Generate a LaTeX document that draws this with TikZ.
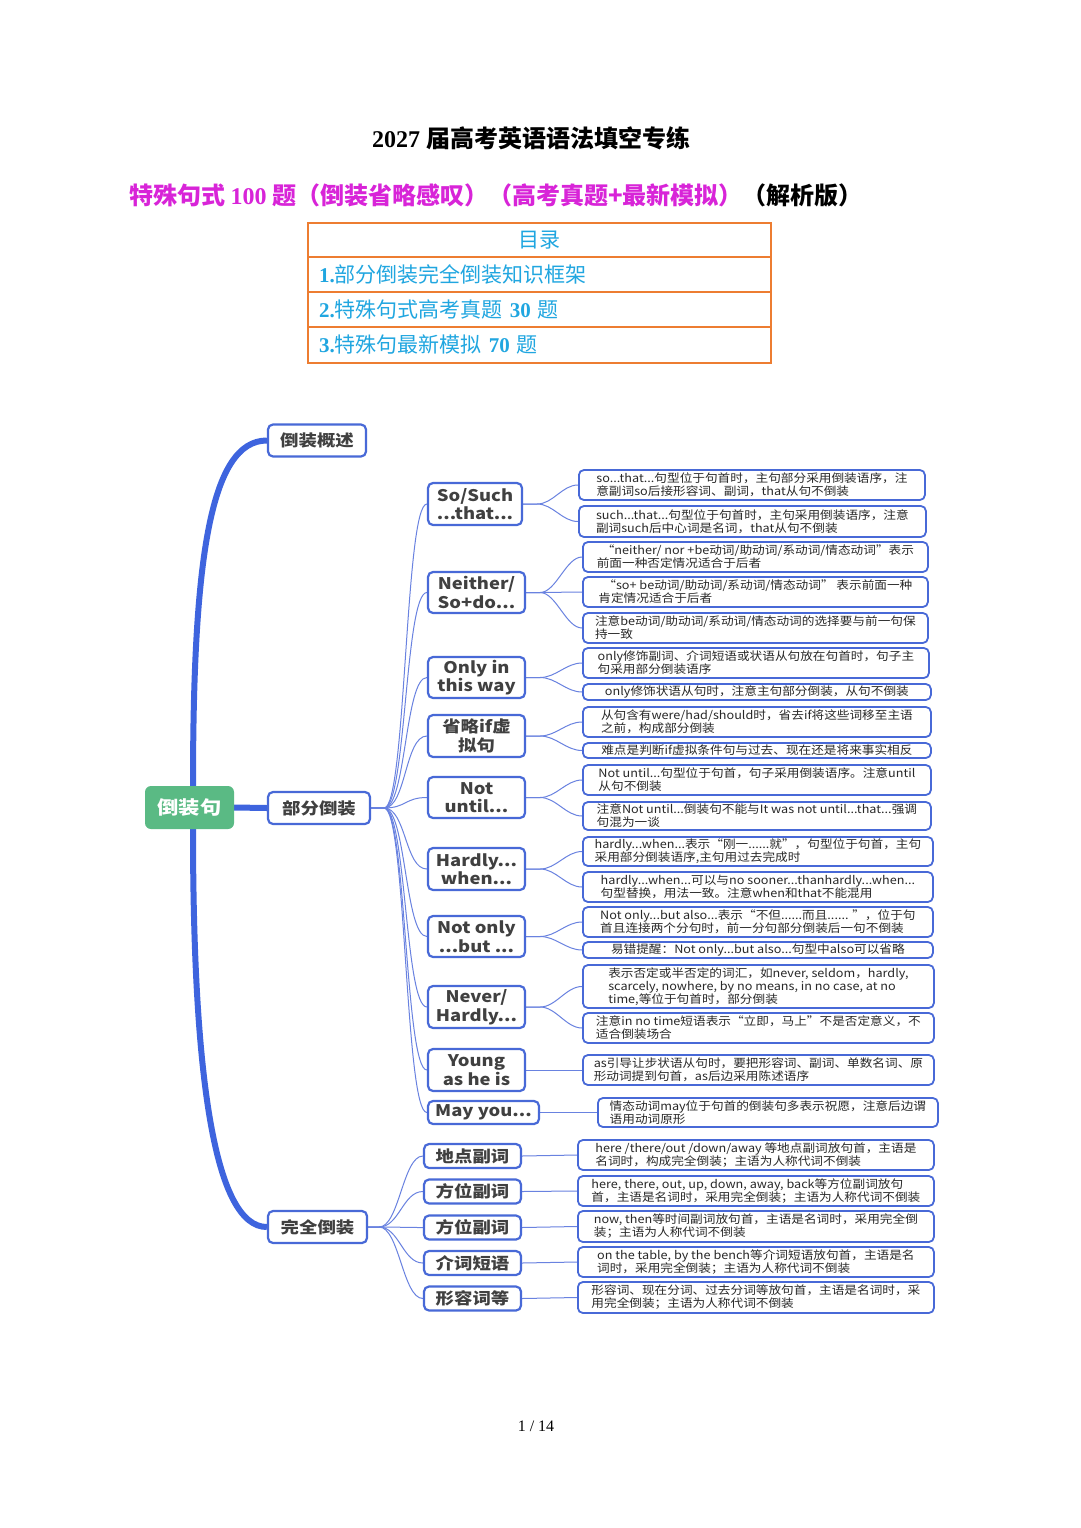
\documentclass[tikz,border=0pt]{standalone}
\usepackage{fontspec}
\usetikzlibrary{backgrounds}
\setmainfont{Liberation Serif}
\newfontfamily\cjk{Noto Sans CJK SC}
\newfontfamily\cjkw{Noto Sans CJK SC}[FakeStretch=1.15]
\newfontfamily\cjkd{Noto Sans CJK SC}[FakeStretch=1.1]
\newfontfamily\tms{Liberation Serif}
\definecolor{mblue}{RGB}{62,100,222}
\definecolor{bord}{RGB}{72,105,215}
\definecolor{tcol}{RGB}{105,130,224}
\definecolor{rootg}{RGB}{90,186,132}
\definecolor{txt}{RGB}{64,64,64}
\definecolor{dtxt}{RGB}{40,40,40}
\definecolor{mag}{RGB}{216,36,216}
\definecolor{tblue}{RGB}{32,166,224}
\definecolor{orng}{RGB}{237,125,49}
\tikzset{
  rootbox/.style={fill=rootg, rounded corners=6pt, minimum width=89pt, minimum height=43pt, text=white, font=\cjkw\bfseries\fontsize{18.5}{21}\selectfont, inner sep=0pt},
  lvone/.style={draw=bord, line width=2.2pt, fill=white, rounded corners=5pt, minimum height=32pt, text=txt, font=\cjkw\bfseries\fontsize{16}{19}\selectfont, inner sep=0pt},
  lvtwo/.style={draw=bord, line width=2.2pt, fill=white, rounded corners=5pt, text=txt, align=center, font=\cjkw\bfseries\fontsize{16}{18.5}\selectfont, inner sep=0pt},
  det/.style={draw=bord, line width=1.8pt, fill=white, rounded corners=5pt, text=dtxt, align=left, font=\cjkd\fontsize{11.5}{13}\selectfont, inner sep=0pt, anchor=west},
  trunk/.style={draw=mblue, line width=6pt},
  twig/.style={draw=tcol, line width=1pt},
  tbrow/.style={draw=orng, line width=2.5pt, minimum width=463pt, inner sep=0pt, text=tblue, font=\fontsize{21}{24}\selectfont},
}
\begin{document}
\begin{tikzpicture}[x=1pt,y=-1pt]
\useasboundingbox (0,0) rectangle (1080,1528);
\begin{scope}[on background layer]
\fill[white] (0,0) rectangle (1080,1528);
\end{scope}

% ---------- header ----------
\node[font=\fontsize{24}{28}\selectfont\bfseries] (title) at (531,138) {{\tms 2027} {\cjk 届高考英语语法填空专练}};
\node[anchor=west, inner sep=0pt, font=\fontsize{24}{28}\selectfont\bfseries] (sub) at (129,195)
  {\textcolor{mag}{\cjk 特殊句式 {\tms\bfseries 100} 题（倒装省略感叹）（高考真题+最新模拟）}{\cjk （解析版）}};

\node[tbrow, minimum height=34pt, align=center] (t0) at (539.5,240) {\cjk 目录};
\node[tbrow, minimum height=35pt, text width=441pt, align=left] (t1) at (539.5,274.5) {{\tms\bfseries 1.}\cjk 部分倒装完全倒装知识框架};
\node[tbrow, minimum height=35pt, text width=441pt, align=left] (t2) at (539.5,309.5) {{\tms\bfseries 2.}\cjk 特殊句式高考真题 {\tms\bfseries 30} 题};
\node[tbrow, minimum height=36pt, text width=441pt, align=left] (t3) at (539.5,345) {{\tms\bfseries 3.}\cjk 特殊句最新模拟 {\tms\bfseries 70} 题};

% ---------- mind map: root and level 1 ----------
\node[rootbox] (root) at (189.5,807.5) {倒装句};
\node[lvone, minimum width=98pt] (la) at (317,440.5) {倒装概述};
\node[lvone, minimum width=102pt] (lb) at (319,808) {部分倒装};
\node[lvone, minimum width=99pt] (lc) at (317.5,1227) {完全倒装};

% ---------- level 2 ----------
\node[lvtwo, minimum width=94pt, minimum height=42pt] (n1) at (475,504) {So/Such\\...that...};
\node[lvtwo, minimum width=97pt, minimum height=41pt] (n2) at (476.5,592.5) {Neither/\\So+do...};
\node[lvtwo, minimum width=97pt, minimum height=41pt] (n3) at (476.5,677.5) {Only in\\this way};
\node[lvtwo, minimum width=97pt, minimum height=42pt] (n4) at (476.5,736) {省略if虚\\拟句};
\node[lvtwo, minimum width=97pt, minimum height=41pt] (n5) at (476.5,797.5) {Not\\until...};
\node[lvtwo, minimum width=97pt, minimum height=42pt] (n6) at (476.5,869) {Hardly...\\when...};
\node[lvtwo, minimum width=97pt, minimum height=41pt] (n7) at (476.5,936.5) {Not only\\...but ...};
\node[lvtwo, minimum width=97pt, minimum height=42pt] (n8) at (476.5,1007) {Never/\\Hardly...};
\node[lvtwo, minimum width=97pt, minimum height=42pt] (n9) at (476.5,1070) {Young\\as he is};
\node[lvtwo, minimum width=111pt, minimum height=23pt] (n10) at (483.5,1112.5) {May you...};

\node[lvtwo, minimum width=97pt, minimum height=24pt] (c1) at (472.5,1156) {地点副词};
\node[lvtwo, minimum width=97pt, minimum height=24pt] (c2) at (472.5,1191.5) {方位副词};
\node[lvtwo, minimum width=97pt, minimum height=24pt] (c3) at (472.5,1227.5) {方位副词};
\node[lvtwo, minimum width=97pt, minimum height=24pt] (c4) at (472.5,1263) {介词短语};
\node[lvtwo, minimum width=97pt, minimum height=24pt] (c5) at (472.5,1298.5) {形容词等};

% ---------- level 3 details ----------
\node[det, minimum width=346pt, minimum height=30pt] (d1) at (578,485) {so...that...句型位于句首时，主句部分采用倒装语序，注\\意副词so后接形容词、副词，that从句不倒装};
\node[det, minimum width=347pt, minimum height=31pt] (d2) at (578,521.5) {such...that...句型位于句首时，主句采用倒装语序，注意\\副词such后中心词是名词，that从句不倒装};
\node[det, minimum width=345pt, minimum height=30pt] (d3) at (582,557) {\hspace*{5pt}“neither/ nor +be动词/助动词/系动词/情态动词”表示\\前面一种否定情况适合于后者};
\node[det, minimum width=345pt, minimum height=30pt] (d4) at (582,592) {\hspace*{5pt}“so+ be动词/助动词/系动词/情态动词” 表示前面一种\\肯定情况适合于后者};
\node[det, minimum width=345pt, minimum height=30pt] (d5) at (582,628) {注意be动词/助动词/系动词/情态动词的选择要与前一句保\\持一致};
\node[det, minimum width=346pt, minimum height=30pt] (d6) at (582,663) {only修饰副词、介词短语或状语从句放在句首时，句子主\\句采用部分倒装语序};
\node[det, minimum width=348pt, minimum height=16pt] (d7) at (582,692) {only修饰状语从句时，注意主句部分倒装，从句不倒装};
\node[det, minimum width=348pt, minimum height=30pt] (d8) at (582,722) {从句含有were/had/should时，省去if将这些词移至主语\\之前，构成部分倒装};
\node[det, minimum width=348pt, minimum height=15pt] (d9) at (582,750.5) {难点是判断if虚拟条件句与过去、现在还是将来事实相反};
\node[det, minimum width=348pt, minimum height=30pt] (d10) at (582,780) {Not until...句型位于句首，句子采用倒装语序。注意until\\从句不倒装};
\node[det, minimum width=348pt, minimum height=28pt] (d11) at (582,816) {注意Not until...倒装句不能与It was not until...that...强调\\句混为一谈};
\node[det, minimum width=350pt, minimum height=29pt] (d12) at (582,851.5) {hardly...when...表示“刚一......就”，句型位于句首，主句\\采用部分倒装语序,主句用过去完成时};
\node[det, minimum width=350pt, minimum height=30pt] (d13) at (582,887) {hardly...when...可以与no sooner...thanhardly...when...\\句型替换，用法一致。注意when和that不能混用};
\node[det, minimum width=350pt, minimum height=30pt] (d14) at (582,922) {Not only...but also...表示“不但......而且...... ”，位于句\\首且连接两个分句时，前一分句部分倒装后一句不倒装};
\node[det, minimum width=350pt, minimum height=16pt] (d15) at (582,950) {易错提醒：Not only...but also...句型中also可以省略};
\node[det, minimum width=351pt, minimum height=43pt] (d16) at (582,986.5) {表示否定或半否定的词汇，如never, seldom，hardly,\\scarcely, nowhere, by no means, in no case, at no\\time,等位于句首时，部分倒装};
\node[det, minimum width=351pt, minimum height=30pt] (d17) at (582,1028) {注意in no time短语表示“立即，马上”不是否定意义，不\\适合倒装场合};
\node[det, minimum width=351pt, minimum height=30pt] (d18) at (582,1070) {as引导让步状语从句时，要把形容词、副词、单数名词、原\\形动词提到句首，as后边采用陈述语序};
\node[det, minimum width=340pt, minimum height=29pt] (d19) at (597,1112.5) {情态动词may位于句首的倒装句多表示祝愿，注意后边谓\\语用动词原形};
\node[det, minimum width=356pt, minimum height=30pt] (d20) at (577,1155) {here /there/out /down/away 等地点副词放句首，主语是\\名词时，构成完全倒装；主语为人称代词不倒装};
\node[det, minimum width=356pt, minimum height=30pt] (d21) at (577,1191) {here, there, out, up, down, away, back等方位副词放句\\首，主语是名词时，采用完全倒装；主语为人称代词不倒装};
\node[det, minimum width=356pt, minimum height=31pt] (d22) at (577,1226.5) {now, then等时间副词放句首，主语是名词时，采用完全倒\\装；主语为人称代词不倒装};
\node[det, minimum width=356pt, minimum height=30pt] (d23) at (577,1262) {on the table, by the bench等介词短语放句首，主语是名\\词时，采用完全倒装；主语为人称代词不倒装};
\node[det, minimum width=356pt, minimum height=31pt] (d24) at (577,1297.5) {形容词、现在分词、过去分词等放句首，主语是名词时，采\\用完全倒装；主语为人称代词不倒装};

% ---------- footer ----------
\node[font=\tms\fontsize{16}{18}\selectfont] (pg) at (536,1426) {1 / 14};

% ---------- connectors ----------
\begin{scope}[on background layer]
\draw[trunk] ([xshift=3.5pt]root.north) .. controls (193,560) and (210,440.5) .. (la.west);
\draw[trunk] (root.east) -- (lb.west);
\draw[trunk] ([xshift=3.5pt]root.south) .. controls (193,1080) and (215,1227) .. (lc.west);

\foreach \n in {n1,n2,n3,n4,n5,n6,n7,n8,n9,n10}
  \draw[twig] (lb.east) -- ++(13,0) .. controls +(22,0) and +(-22,0) .. (\n.west);
\foreach \n in {c1,c2,c3,c4,c5}
  \draw[twig] (lc.east) -- ++(11,0) .. controls +(20,0) and +(-20,0) .. (\n.west);

\foreach \a/\b in {n1/d1,n1/d2,n2/d3,n2/d4,n2/d5,n3/d6,n3/d7,n4/d8,n4/d9,n5/d10,n5/d11,n6/d12,n6/d13,n7/d14,n7/d15,n8/d16,n8/d17}
  \draw[twig] (\a.east) -- ++(14,0) .. controls +(16,0) and +(-16,0) .. (\b.west);
\draw[twig] (n9.east) -- (d18.west);
\draw[twig] (n10.east) -- (d19.west);
\foreach \a/\b in {c1/d20,c2/d21,c3/d22,c4/d23,c5/d24}
  \draw[twig] (\a.east) -- (\b.west);
\end{scope}
\end{tikzpicture}
\end{document}
